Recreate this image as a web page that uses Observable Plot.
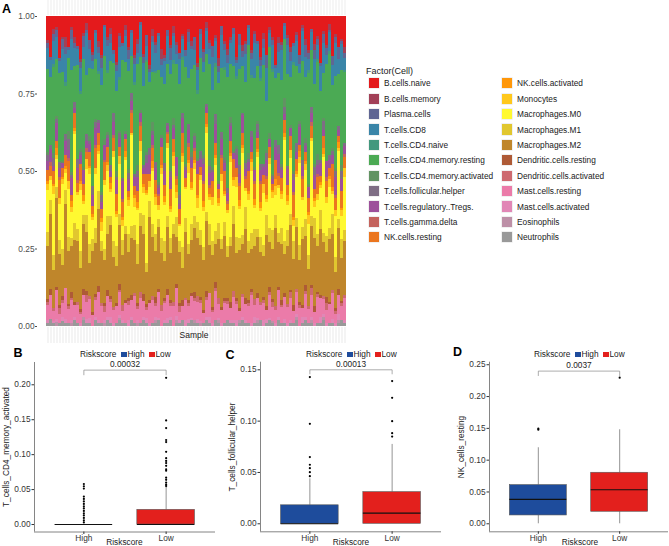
<!DOCTYPE html>
<html><head><meta charset="utf-8">
<script src="https://cdn.jsdelivr.net/npm/d3@7"></script>
<script src="https://cdn.jsdelivr.net/npm/@observablehq/plot@0.6"></script>
<style>
body{margin:0;background:#fff;font-family:"Liberation Sans",Arial,sans-serif;color:#1a1a1a;}
#fig{position:relative;width:669px;height:546px;overflow:hidden;background:#fff;}
.t{position:absolute;white-space:nowrap;line-height:1;}
#fig svg{position:absolute;overflow:visible;}
.sw{position:absolute;}
</style></head><body><div id="fig"></div>
<script>
// ---------- Panel A data (CIBERSORT fractions, %, per sample) ----------
const cellTypes = ["B.cells.naive","B.cells.memory","Plasma.cells","T.cells.CD8","T.cells.CD4.naive",
  "T.cells.CD4.memory.resting","T.cells.CD4.memory.activated","T.cells.follicular.helper",
  "T.cells.regulatory..Tregs.","T.cells.gamma.delta","NK.cells.resting","NK.cells.activated","Monocytes",
  "Macrophages.M0","Macrophages.M1","Macrophages.M2","Dendritic.cells.resting","Dendritic.cells.activated",
  "Mast.cells.resting","Mast.cells.activated","Eosinophils","Neutrophils"];
const set1 = ["#E41A1C","#377EB8","#4DAF4A","#984EA3","#FF7F00","#FFFF33","#A65628","#F781BF","#999999"];

const Bnaive = [8,12,5,3,14,9,6,11,4,7,10,15,6,2,9,13,5,8,12,3,7,4,11,16,6,9,3,10,5,13,8,2,12,7,15,4,9,6,11,14,5,10,3,8,13,6,12,4,9,7,14,5,10,2,8,11,6,15,3,9,12,7,4,13,6,10,8,3,11,5,9,14,6,12,4,8,15,7,10,2,6,11,9,5,13,3,8,12,4,10,7,15,5,9,3,12,6,10,8,11];
const Bmem = [1,0,2,1,0,1,3,0,1,2,0,1,1,2,0,1,0,2,1,0,1,2,0,1,1,0,2,1,0,1,2,0,1,0,1,2,1,0,3,1,0,1,2,1,0,1,0,1,2,0,1,0,1,2,1,0,1,3,0,1,2,1,0,1,0,2,1,0,1,1,0,1,2,0,1,1,0,2,1,0,1,2,0,1,0,1,2,1,0,2,1,0,1,1,2,0,1,0,1,2];
const Plasma = [2,1,3,2,1,4,2,1,3,2,1,2,4,1,3,2,1,2,3,1,2,3,1,2,4,1,2,3,1,2,3,1,2,4,1,2,3,1,2,1,2,4,1,3,2,1,2,3,1,4,1,2,3,1,2,4,1,2,3,2,3,1,2,1,4,2,3,1,2,3,1,2,3,4,1,2,1,3,2,1,2,3,1,2,3,1,4,2,1,3,2,1,3,2,1,3,2,4,1,2];
const CD8 = [7,5,9,6,4,10,8,3,11,6,5,8,4,12,7,3,9,6,5,10,8,6,3,7,11,5,9,4,8,6,4,10,7,5,3,9,6,12,4,8,10,5,7,3,9,6,4,11,7,5,6,9,3,8,5,12,7,4,10,6,5,7,11,4,8,3,9,6,5,12,8,4,6,10,5,9,3,7,11,4,9,6,5,8,3,10,7,4,6,9,5,8,10,3,7,6,11,5,9,4];
const CD4naive = [0,0,1,0,0,0,1,0,0,0,0,1,0,0,0,0,0,1,0,0,1,0,0,0,1,0,0,0,0,1,0,0,0,1,0,0,1,0,0,0,0,0,1,0,0,1,0,0,0,0,1,0,0,0,0,0,1,0,0,1,0,0,0,1,0,0,0,0,1,0,0,1,0,0,0,1,0,0,0,0,0,0,1,0,0,0,0,1,0,0,1,0,0,0,1,0,0,0,0,1];
const CD4memRest = [28,20,34,16,30,38,14,26,36,12,31,19,38,17,25,42,21,15,33,29,20,35,16,28,18,40,24,32,13,30,36,17,25,33,20,15,31,40,19,28,21,32,16,29,38,18,34,14,30,22,19,36,25,17,32,28,15,35,20,31,40,18,29,21,33,16,25,37,17,30,20,28,34,15,31,38,19,24,32,18,29,17,35,25,16,33,21,39,18,28,32,22,15,30,37,19,31,17,34,25];
const CD4memAct = [1,0,2,1,0,1,0,3,1,0,0,1,1,0,2,0,1,0,1,2,1,0,0,2,1,0,1,1,0,0,2,1,0,1,0,3,0,1,1,0,0,1,2,0,1,0,1,0,2,1,1,0,1,0,2,1,0,1,0,1,0,2,1,1,0,0,1,2,0,1,1,0,0,1,2,1,0,0,1,3,0,1,1,0,1,0,2,1,0,1,2,0,1,0,0,1,1,0,2,0];
const Tfh = [2,1,3,1,2,0,2,4,1,2,3,1,0,2,1,3,2,1,2,0,1,2,3,1,2,1,0,2,3,1,2,0,1,3,2,1,2,1,0,3,1,2,1,0,3,2,1,2,1,2,0,3,2,1,2,1,3,0,2,1,2,1,0,2,3,1,2,1,2,0,3,2,1,2,0,1,2,3,1,2,1,0,2,3,1,2,1,0,2,3,2,1,3,0,2,1,2,1,3,1];
const Tregs = [3,4,2,5,3,2,4,3,6,2,4,3,5,2,3,4,6,3,2,5,3,2,4,5,3,6,2,4,3,3,5,3,2,4,6,3,4,2,3,5,2,4,3,6,2,5,3,4,3,2,4,3,5,2,4,3,6,2,5,3,3,5,2,4,3,6,2,3,5,4,2,4,3,5,3,2,4,6,3,2,5,3,4,2,6,3,2,4,3,5,3,4,2,5,3,3,6,2,4,3];
const gammaDelta = [0,1,0,0,1,0,0,1,0,0,1,0,0,1,0,0,1,0,0,1,0,0,1,0,0,1,0,0,1,0,0,1,0,0,0,1,0,1,0,0,1,0,0,1,0,0,0,1,0,1,0,0,1,0,1,0,0,0,1,0,1,0,0,0,1,0,1,0,0,1,0,1,0,1,0,0,0,1,0,0,0,0,1,0,0,1,0,0,1,0,1,0,0,1,0,0,1,0,0,1];
const NKrest = [4,3,5,2,6,4,3,7,2,5,3,6,4,2,5,3,7,4,3,6,5,2,4,6,3,5,4,2,7,3,4,5,3,6,2,4,5,3,6,4,3,6,4,2,5,7,3,4,5,3,6,3,5,4,2,6,4,3,5,7,2,4,6,3,5,4,3,7,2,5,4,6,3,5,4,2,6,3,5,4,3,5,7,4,2,6,3,5,4,3,6,2,4,5,3,7,4,2,6,4];
const NKact = [1,0,1,2,0,1,1,0,2,1,0,1,2,0,1,1,0,2,1,0,1,2,0,1,0,1,2,1,0,1,2,0,1,1,0,2,1,0,1,2,0,1,1,2,0,1,0,1,2,1,1,0,2,1,1,0,1,2,0,1,0,1,1,0,2,1,0,1,1,2,1,2,0,1,0,1,2,0,1,1,2,0,1,1,2,0,1,1,0,1,0,1,2,0,1,1,0,2,1,0];
const Monocytes = [2,1,3,1,2,2,1,3,2,1,1,2,1,3,2,1,2,1,3,2,2,1,2,1,3,2,1,2,1,3,1,3,2,1,2,1,3,2,2,1,2,1,3,2,1,2,1,3,1,2,3,2,1,2,1,3,2,1,2,1,1,2,2,3,1,2,1,2,3,1,2,1,3,1,2,2,3,1,2,1,1,3,2,1,2,1,2,3,1,2,2,1,1,2,3,1,2,1,2,3];
const M0 = [14,6,24,8,12,28,5,17,9,30,11,21,4,13,26,7,19,12,3,22,15,8,27,10,18,5,23,9,32,6,12,20,7,25,4,16,10,3,21,13,24,9,17,6,5,29,10,22,12,15,4,19,11,27,8,13,21,6,18,9,12,25,7,16,10,28,5,14,20,7,26,9,18,4,23,12,6,15,11,31,8,20,5,13,27,9,17,11,24,4,12,7,25,10,15,6,14,22,8,19];
const M1 = [5,4,6,3,5,7,4,5,3,6,4,6,3,5,7,4,5,6,3,4,6,3,5,7,4,5,3,6,4,5,7,4,6,3,5,4,6,3,5,7,4,5,3,6,4,7,5,3,6,4,5,6,4,3,7,5,4,6,3,5,4,3,6,5,4,3,7,4,5,6,3,5,4,6,5,7,4,3,6,4,5,4,6,3,5,4,6,5,3,7,4,6,3,5,4,6,5,3,7,4];
const M2 = [18,22,15,25,17,13,24,19,16,21,20,14,23,17,12,22,18,25,16,15,19,24,16,13,21,17,23,15,20,18,14,21,19,12,25,18,16,22,17,13,22,16,20,15,18,11,23,14,19,21,17,20,15,24,16,19,12,21,18,22,15,19,23,14,20,17,22,16,13,18,20,17,14,22,16,19,24,15,21,12,18,23,15,20,14,22,17,13,19,24,16,21,18,14,23,17,12,20,15,19];
const DCrest = [1,2,0,1,1,2,0,1,2,1,0,1,2,1,0,1,1,2,0,1,2,1,0,1,2,0,1,1,2,0,1,0,2,1,1,0,2,1,0,1,2,1,0,1,1,2,0,1,1,2,0,1,1,2,0,1,2,0,1,1,1,2,0,1,1,0,2,1,1,0,2,0,1,1,2,1,0,1,2,1,0,1,2,0,1,1,2,0,1,2,1,1,0,2,1,0,1,2,1,0];
const DCact = [1,0,1,0,2,1,0,1,1,0,1,1,0,2,1,0,1,0,1,2,0,1,1,0,1,2,0,1,0,1,1,2,0,1,0,1,1,0,2,1,0,1,1,0,2,0,1,1,0,1,2,1,0,1,0,1,1,2,0,1,1,0,2,1,0,1,0,1,1,2,0,1,1,0,1,2,1,0,1,0,1,2,0,1,1,0,1,1,2,0,1,0,1,2,0,1,1,0,1,1];
const MastRest = [5,7,4,8,3,6,9,5,7,4,6,3,8,5,7,4,6,9,5,3,7,5,4,6,8,3,7,5,6,9,4,8,5,3,6,7,4,9,5,6,8,4,6,9,3,5,7,4,8,6,5,7,3,6,8,4,9,5,4,7,6,4,8,5,3,7,5,6,9,4,7,5,6,3,8,5,4,9,6,7,5,8,4,7,6,3,8,5,7,4,9,6,5,4,7,8,3,6,5,8];
const MastAct = [1,0,1,1,0,2,1,0,1,1,0,1,0,1,2,0,1,1,0,1,1,2,1,0,1,1,0,2,1,0,1,0,1,2,1,0,1,1,0,1,2,1,0,1,1,0,2,1,1,0,1,1,0,1,2,1,0,1,1,0,0,1,1,2,0,1,1,0,1,2,1,0,2,1,1,0,1,1,0,1,1,1,0,1,0,2,1,0,1,1,0,2,1,1,0,1,1,2,0,1];
const Eosinophils = [0,0,0,1,0,0,0,0,1,0,0,0,1,0,0,0,0,0,0,1,0,0,0,0,1,0,0,0,0,0,1,0,0,0,0,0,1,0,0,0,0,0,0,1,0,0,0,0,0,1,0,1,0,0,0,0,0,1,0,0,0,0,0,0,1,0,0,0,0,0,1,0,0,0,0,1,0,0,0,0,0,0,0,1,0,0,0,0,1,0,0,0,1,0,0,0,0,1,0,0];
const Neutrophils = [1,2,1,0,1,2,1,1,0,2,1,0,2,1,1,0,2,1,1,0,2,1,0,1,2,1,1,0,2,1,0,1,2,1,0,1,1,2,0,1,1,2,0,1,1,2,0,1,2,1,1,0,1,2,1,0,2,1,0,1,2,1,1,0,1,2,1,1,0,1,1,2,0,1,2,1,0,2,1,1,0,1,1,2,0,1,2,1,1,0,1,1,2,0,1,1,0,1,2,1];
const cellValues = [Bnaive,Bmem,Plasma,CD8,CD4naive,CD4memRest,CD4memAct,Tfh,Tregs,gammaDelta,NKrest,NKact,Monocytes,M0,M1,M2,DCrest,DCact,MastRest,MastAct,Eosinophils,Neutrophils];
const yTicksA = [0, 0.25, 0.5, 0.75, 1];

// ---------- Panels B-D data (box statistics) ----------
const groups = ["High","Low"];
const boxColors = ["#1E4C9C","#E3201D"];
// B: T_cells_CD4_memory_activated
const bWhiskLo=[0,0], bQ1=[0,0], bMed=[0,0], bQ3=[0,0.021], bWhiskHi=[0,0.0533];
const bOutHigh=[0.003,0.006,0.0095,0.013,0.016,0.0195,0.023,0.026,0.0295,0.033,0.0367,0.04,0.0514,0.0548,0.058];
const bOutLow=[0.055,0.057,0.06,0.064,0.067,0.077,0.079,0.084,0.088,0.091,0.095,0.104,0.118,0.121,0.138,0.149,0.21];
const bTicks=[0,0.05,0.1,0.15,0.2];
// C: T_cells_follicular_helper
const cWhiskLo=[0,0], cQ1=[0,0], cMed=[0,0.0104], cQ3=[0.018,0.0308], cWhiskHi=[0.0438,0.0773];
const cOutHigh=[0.0464,0.0503,0.0542,0.0575,0.065,0.0974,0.1429];
const cOutLow=[0.085,0.0883,0.1,0.1227,0.139];
const cTicks=[0,0.05,0.1,0.15];
// D: NK_cells_resting
const dWhiskLo=[0,0], dQ1=[0.0131,0.0189], dMed=[0.0383,0.0535], dQ3=[0.0608,0.0802], dWhiskHi=[0.1195,0.1478];
const dOutHigh=[0.148,0.1495];
const dOutLow=[0.2296];
const dTicks=[0,0.05,0.1,0.15,0.2,0.25];
const pValues=["0.00032","0.00013","0.0037"];

// ---------- helpers ----------
const fig = document.getElementById("fig");
const FONT = "Liberation Sans, Arial, sans-serif";
function txt(s, x, y, o={}) {
  const d = document.createElement("div");
  d.className = "t";
  d.textContent = s;
  d.style.fontSize = (o.size||8.3)+"px";
  if (o.bold) d.style.fontWeight = "bold";
  if (o.color) d.style.color = o.color;
  d.style.left = x+"px"; d.style.top = y+"px";
  const ax = o.anchor==="start" ? "0" : "-50%";
  d.style.transform = `translate(${ax},-50%)`;
  if (o.rotate) { d.style.transformOrigin = "0 0"; d.style.transform = `rotate(${o.rotate}deg) translate(-50%,-50%)`; }
  fig.appendChild(d);
  return d;
}
function place(svg, left, top) {
  svg.style.left = left+"px"; svg.style.top = top+"px";
  fig.appendChild(svg);
}

// ---------- Panel A ----------
const interp = d3.piecewise(d3.interpolateRgb, set1);
const cellColors = cellTypes.map((_, i) => d3.color(interp(i/(cellTypes.length-1))).formatHex());
const N = Bnaive.length;
const samples = d3.range(N);
const stackData = [];
for (const s of samples) {
  const total = d3.sum(cellValues, v => v[s]);
  for (let t = cellTypes.length-1; t >= 0; t--) {
    stackData.push({sample: s, cell: cellTypes[t], value: cellValues[t][s]/total});
  }
}
const plotA = Plot.plot({
  width: 360, height: 345, marginLeft: 37, marginRight: 5, marginTop: 16, marginBottom: 19,
  style: {fontFamily: FONT, fontSize: "8.3px", background: "transparent", overflow: "visible"},
  x: {type: "band", domain: samples, padding: 0, axis: null},
  y: {domain: [0, 1]},
  color: {domain: cellTypes, range: cellColors},
  marks: [
    Plot.ruleX(samples, {x: d => d, y1: -0.055, y2: -0.003, stroke: "#efefef", strokeWidth: 1.4}),
    Plot.ruleX(samples, {x: d => d, y1: 1.003, y2: 1.055, stroke: "#f3f3f3", strokeWidth: 1.4}),
    Plot.barY(stackData, {x: "sample", y: "value", fill: "cell", shapeRendering: "crispEdges"}),
    Plot.axisY({ticks: yTicksA, tickFormat: d3.format(".2f"), tickSize: 2, tickPadding: 1, label: null, color: "#4d4d4d", fontSize: 8.3})
  ]
});
place(plotA, 0, 0);
txt("A", 6.5, 8.5, {size: 12.5, bold: true, color: "#000"});
txt("Sample", 194, 334.5, {size: 8.5});

// legend A
txt("Factor(Cell)", 366, 70.5, {size: 9, anchor: "start"});
cellTypes.forEach((c, i) => {
  const col = Math.floor(i / 11), row = i % 11;
  const cy = 83.3 + row * 15.4;
  const sx = col === 0 ? 369 : 502;
  const sw = document.createElement("div");
  sw.className = "sw";
  sw.style.cssText = `left:${sx}px;top:${cy-5.2}px;width:10.3px;height:10.3px;background:${cellColors[i]};box-shadow:0 0 0 0.6px #e6e6e6;`;
  fig.appendChild(sw);
  txt(c, sx + 15, cy, {size: 8.3, anchor: "start"});
});

// ---------- Box panels ----------
function boxPanel(o) {
  const idx = [0, 1];
  const xDomain = [0.4, 2.6];
  const half = 0.35;
  const outliers = [...o.outHigh.map(v => ({g: 1, v})), ...o.outLow.map(v => ({g: 2, v}))];
  const mid = (1 + 2) / 2;
  const bracket = [{x: 1, y: o.tickY}, {x: 1, y: o.pY}, {x: 2, y: o.pY}, {x: 2, y: o.tickY}];
  return Plot.plot({
    width: o.width, height: 206, marginLeft: o.ml, marginRight: o.mr, marginTop: o.mt, marginBottom: o.mb,
    style: {fontFamily: FONT, fontSize: "8.3px", background: "transparent", overflow: "visible"},
    x: {domain: xDomain},
    y: {domain: o.yDomain},
    color: {domain: groups, range: boxColors},
    marks: [
      Plot.ruleX([xDomain[0]], {stroke: "#666", strokeWidth: 0.8}),
      Plot.ruleY([o.yDomain[0]], {stroke: "#666", strokeWidth: 0.8}),
      Plot.ruleX(idx, {x: i => i + 1, y1: i => o.lo[i], y2: i => o.q1[i], stroke: "#666", strokeWidth: 0.7}),
      Plot.ruleX(idx, {x: i => i + 1, y1: i => o.q3[i], y2: i => o.hi[i], stroke: "#666", strokeWidth: 0.7}),
      Plot.rect(idx, {x1: i => i + 1 - half, x2: i => i + 1 + half, y1: i => o.q1[i], y2: i => o.q3[i], fill: i => groups[i], stroke: "#555", strokeWidth: 0.6}),
      Plot.ruleY(idx, {y: i => o.med[i], x1: i => i + 1 - half, x2: i => i + 1 + half, stroke: "#111", strokeWidth: 1.1}),
      Plot.dot(outliers, {x: "g", y: "v", r: 1.1, fill: "#000", stroke: null}),
      Plot.line(bracket, {x: "x", y: "y", stroke: "#8a8a8a", strokeWidth: 0.7}),
      Plot.text([o.p], {x: mid, y: o.pY, dy: -5.5, text: d => d, fontSize: 8.3, fill: "#222"}),
      Plot.axisY({ticks: o.ticks, tickFormat: d3.format(".2f"), tickSize: 2.5, tickPadding: 1.5, label: null, color: "#333", fontSize: 8.3}),
      Plot.axisX({ticks: [1, 2], tickFormat: d => groups[d - 1], tickSize: 2.5, tickPadding: 1, label: null, color: "#333", fontSize: 8.3})
    ]
  });
}
function riskLegend(x0, y) {
  txt("Riskscore", x0, y, {size: 8.3, anchor: "start"});
  const s1 = x0 + 41;
  const a = document.createElement("div"); a.className = "sw";
  a.style.cssText = `left:${s1}px;top:${y-2}px;width:6px;height:4.5px;background:${boxColors[0]};`;
  fig.appendChild(a);
  txt(groups[0], s1 + 6.5, y, {size: 8.3, anchor: "start"});
  const s2 = s1 + 28;
  const b = document.createElement("div"); b.className = "sw";
  b.style.cssText = `left:${s2}px;top:${y-2}px;width:6px;height:4.5px;background:${boxColors[1]};`;
  fig.appendChild(b);
  txt(groups[1], s2 + 6.5, y, {size: 8.3, anchor: "start"});
}

place(boxPanel({width: 220, ml: 34, mr: 5, mt: 22, mb: 14.5, yDomain: [-0.0107, 0.2319], ticks: bTicks,
  lo: bWhiskLo, q1: bQ1, med: bMed, q3: bQ3, hi: bWhiskHi, outHigh: bOutHigh, outLow: bOutLow,
  pY: 0.221, tickY: 0.2143, p: pValues[0]}), 0, 340);
place(boxPanel({width: 225, ml: 40, mr: 4, mt: 21.7, mb: 14.7, yDomain: [-0.0078, 0.1574], ticks: cTicks,
  lo: cWhiskLo, q1: cQ1, med: cMed, q3: cQ3, hi: cWhiskHi, outHigh: cOutHigh, outLow: cOutLow,
  pY: 0.150, tickY: 0.146, p: pValues[1]}), 220, 340);
place(boxPanel({width: 224, ml: 44, mr: 1, mt: 21.7, mb: 14.7, yDomain: [-0.0126, 0.254], ticks: dTicks,
  lo: dWhiskLo, q1: dQ1, med: dMed, q3: dQ3, hi: dWhiskHi, outHigh: dOutHigh, outLow: dOutLow,
  pY: 0.240, tickY: 0.233, p: pValues[2]}), 445, 340);

txt("B", 18, 352.5, {size: 12.5, bold: true, color: "#000"});
txt("C", 230, 355, {size: 12.5, bold: true, color: "#000"});
txt("D", 457.5, 352, {size: 12.5, bold: true, color: "#000"});
riskLegend(80, 354);
riskLegend(306, 354);
riskLegend(534, 354);
txt("T_cells_CD4_memory_activated", 6, 447, {size: 8.3, rotate: -90});
txt("T_cells_follicular_helper", 231.5, 447, {size: 8.3, rotate: -90});
txt("NK_cells_resting", 461, 447, {size: 8.3, rotate: -90});
txt("Riskscore", 124.5, 541.5, {size: 8.3});
txt("Riskscore", 351, 541.5, {size: 8.3});
txt("Riskscore", 580, 541.5, {size: 8.3});
</script></body></html>
